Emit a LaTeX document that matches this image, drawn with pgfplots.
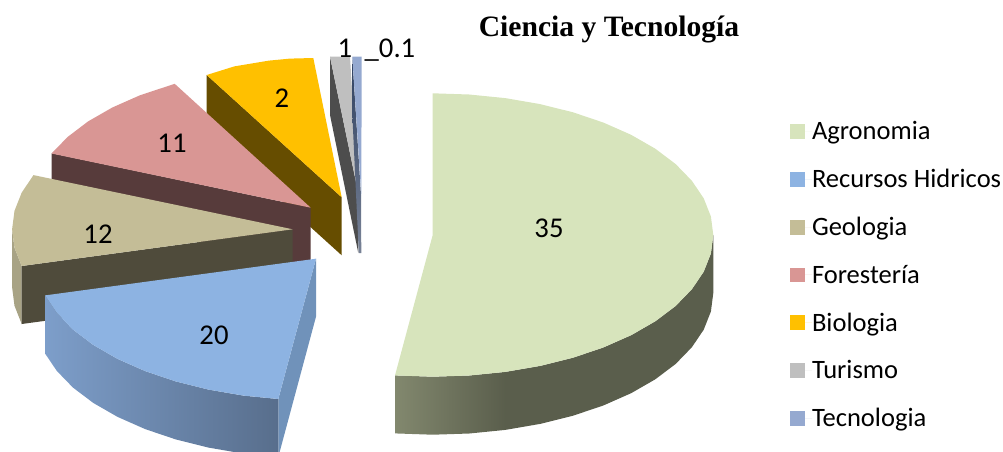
\documentclass[border=0pt]{standalone}
\usepackage{pgfplots}
\pgfplotsset{compat=1.18}
\usepackage{fontspec}
\setmainfont{Carlito}
\newfontfamily\titlefont{Liberation Serif}
\definecolor{cAgro}{HTML}{D7E4BC}
\definecolor{cHid}{HTML}{8DB3E2}
\definecolor{cGeo}{HTML}{C4BD97}
\definecolor{cFor}{HTML}{D99694}
\definecolor{cBio}{HTML}{FFC000}
\definecolor{cTur}{HTML}{BFBFBF}
\definecolor{cTec}{HTML}{95A9D0}
\begin{document}
\begin{tikzpicture}
\begin{axis}[
  scale only axis, width=752.25pt, height=338.25pt,
  xmin=0, xmax=1003, ymin=0, ymax=451, y dir=reverse,
  hide axis, no markers,
  every axis plot/.append style={draw=none},
  legend image code/.code={\fill[#1] (0pt,-5.6pt) rectangle (11.25pt,5.6pt);\path (0pt,0pt) -- (16.5pt,0pt);},
  legend cell align=left,
  legend style={at={(axis cs:790,121)}, anchor=north west, draw=none, fill=none,
    inner sep=0pt, outer sep=0pt, font=\fontsize{19.9pt}{24pt}\selectfont, row sep=20.7pt,
    nodes={inner sep=0pt, outer sep=0pt}},
]
\addlegendimage{fill=cAgro}\addlegendentry{Agronomia}
\addlegendimage{fill=cHid}\addlegendentry{Recursos Hidricos}
\addlegendimage{fill=cGeo}\addlegendentry{Geologia}
\addlegendimage{fill=cFor}\addlegendentry{Forestería}
\addlegendimage{fill=cBio}\addlegendentry{Biologia}
\addlegendimage{fill=cTur}\addlegendentry{Turismo}
\addlegendimage{fill=cTec}\addlegendentry{Tecnologia}

% Biologia
\addplot[forget plot, fill={rgb,255:red,102;green,77;blue,0}] coordinates {(206.7,75) (341.7,197.3) (341.7,255.3) (206.7,133)} -- cycle;
\addplot[forget plot, fill=cBio] coordinates {(206.7,75) (234.3,66.4) (269.1,60.6) (290,58.6) (313.3,58) (341.7,197.3)} -- cycle;
% Turismo
\addplot[forget plot, fill={rgb,255:red,77;green,77;blue,77}] coordinates {(330,56.7) (358.3,193.3) (358.3,253) (330,115)} -- cycle;
\addplot[forget plot, fill=cTur] coordinates {(330,56.7) (350,56.7) (358.3,193.3)} -- cycle;
% Tecnologia
\addplot[forget plot, top color={rgb,255:red,46;green,64;blue,96}, bottom color={rgb,255:red,120;green,130;blue,150}] coordinates {(352.3,57) (361,195) (361.3,253) (358.8,253) (352.3,114)} -- cycle;
\addplot[forget plot, fill=cTec] coordinates {(352.3,56.7) (361.7,56.7) (361.3,195)} -- cycle;
% Foresteria
\addplot[forget plot, fill={rgb,255:red,87;green,59;blue,59}] coordinates {(51.7,153.3) (310.7,207.7) (310.7,265.7) (51.7,211.3)} -- cycle;
\addplot[forget plot, fill=cFor] coordinates {(51.5,153.5) (67.7,136.9) (88.1,121.4) (112.3,107.5) (139.9,95.3) (174.7,83.8) (310.7,207.7)} -- cycle;
% Geologia
\addplot[forget plot, fill={rgb,255:red,168;green,163;blue,133}] coordinates {(21.7,266) (14.5,247.8) (12.1,229.3) (12.1,287.3) (14.5,305.8) (21.7,324)} -- cycle;
\addplot[forget plot, fill={rgb,255:red,79;green,75;blue,59}] coordinates {(21.7,266) (292.7,229.3) (292.7,287.3) (21.7,324)} -- cycle;
\addplot[forget plot, fill=cGeo] coordinates {(21.7,266) (14.5,247.8) (12.1,229.3) (14.5,210.8) (21.7,192.6) (33.5,175.1) (292.7,229.3)} -- cycle;
% Recursos Hidricos
\addplot[forget plot, fill={rgb,255:red,112;green,146;blue,186}] coordinates {(316,258.7) (278.3,399) (278.3,457) (316,316.7)} -- cycle;
\addplot[forget plot, left color={rgb,255:red,125;green,158;blue,202}, right color={rgb,255:red,88;green,110;blue,140}] coordinates {(278.3,399) (243.4,395.6) (208.6,389.6) (175.7,381.4) (145.2,371.1) (117.6,358.9) (93.4,345) (73,329.6) (56.8,312.9) (45,295.4) (45,353.4) (56.8,370.9) (73,387.6) (93.4,403) (117.6,416.9) (145.2,429.1) (175.7,439.4) (208.6,447.6) (243.4,453.6) (278.3,457)} -- cycle;
\addplot[forget plot, fill=cHid] coordinates {(316,258.7) (278.3,399) (243.4,395.6) (208.6,389.6) (175.7,381.4) (145.2,371.1) (117.6,358.9) (93.4,345) (73,329.6) (56.8,312.9) (45,295.4)} -- cycle;
% Agronomia
\addplot[forget plot, fill={rgb,255:red,90;green,94;blue,76}] coordinates {(505.3,371.9) (540.1,365.9) (573,357.7) (603.5,347.4) (631.1,335.2) (655.3,321.3) (675.7,305.9) (691.9,289.2) (703.7,271.7) (710.9,253.5) (713.3,235) (713.3,293) (710.9,311.5) (703.7,329.7) (691.9,347.2) (675.7,363.9) (655.3,379.3) (631.1,393.2) (603.5,405.4) (573,415.7) (540.1,423.9) (505.3,429.9)} -- cycle;
\addplot[forget plot, left color={rgb,255:red,130;green,136;blue,110}, right color={rgb,255:red,90;green,94;blue,76}] coordinates {(395,375.4) (432.7,376.7) (469.3,375.5) (505.3,371.9) (505.3,429.9) (469.3,433.5) (432.7,434.7) (395,433.4)} -- cycle;
\addplot[forget plot, fill=cAgro] coordinates {(432.7,93.3) (469.3,94.5) (505.3,98.1) (540.1,104.1) (573,112.3) (603.5,122.6) (631.1,134.8) (655.3,148.7) (675.7,164.1) (691.9,180.8) (703.7,198.3) (710.9,216.5) (713.3,235) (710.9,253.5) (703.7,271.7) (691.9,289.2) (675.7,305.9) (655.3,321.3) (631.1,335.2) (603.5,347.4) (573,357.7) (540.1,365.9) (505.3,371.9) (469.3,375.5) (432.7,376.7) (395,375.4) (432.7,235)} -- cycle;

% value labels
\node[font=\fontsize{21.5pt}{24pt}\selectfont] at (axis cs:549,228) {35};
\node[font=\fontsize{21.5pt}{24pt}\selectfont] at (axis cs:214,335) {20};
\node[font=\fontsize{21.5pt}{24pt}\selectfont] at (axis cs:98,234) {12};
\node[font=\fontsize{21.5pt}{24pt}\selectfont] at (axis cs:172,143) {11};
\node[font=\fontsize{21.5pt}{24pt}\selectfont] at (axis cs:282,98) {2};
\node[font=\fontsize{21.5pt}{24pt}\selectfont] at (axis cs:345,48) {1};
\node[font=\fontsize{21.5pt}{24pt}\selectfont, anchor=west] at (axis cs:360,50) {\_0.1};
\node[font=\titlefont\bfseries\fontsize{22.2pt}{26pt}\selectfont] at (axis cs:609,29) {Ciencia y Tecnología};
\end{axis}
\pgfresetboundingbox
\path[use as bounding box] (current axis.south west) rectangle (current axis.north east);
\end{tikzpicture}
\end{document}
